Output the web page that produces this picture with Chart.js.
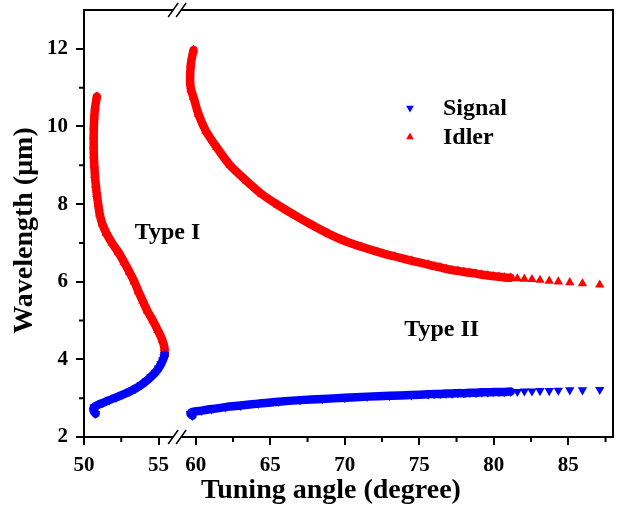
<!DOCTYPE html>
<html>
<head>
<meta charset="utf-8">
<script src="https://cdn.jsdelivr.net/npm/chart.js@4.4.0/dist/chart.umd.min.js"></script>
<style>
  html, body { margin: 0; padding: 0; background: #fff; }
  #wrap { width: 629px; height: 512px; }
</style>
</head>
<body>
<div id="wrap"><canvas id="chart"></canvas></div>
<script>
// Type I branch (left of the axis break)
const signal1X = [50.78, 50.64, 50.68, 50.95, 51.27, 51.7, 52.16, 52.6, 53.05, 53.45, 53.83, 54.18, 54.49, 54.78, 55.0, 55.17, 55.29, 55.37, 55.41];
const signal1Y = [2.60, 2.68, 2.77, 2.83, 2.88, 2.95, 3.02, 3.09, 3.17, 3.25, 3.34, 3.44, 3.55, 3.66, 3.77, 3.88, 3.98, 4.06, 4.12];
const idler1X = [55.41, 55.40, 55.25, 54.95, 54.62, 54.25, 53.95, 53.65, 53.38, 53.05, 52.70, 52.32, 51.88, 51.5, 51.22, 51.05, 50.95, 50.86, 50.79, 50.73, 50.69, 50.66, 50.65, 50.65, 50.66, 50.69, 50.75, 50.86];
const idler1Y = [4.13, 4.30, 4.50, 4.75, 5.00, 5.25, 5.50, 5.75, 6.00, 6.25, 6.50, 6.75, 7.00, 7.25, 7.50, 7.75, 8.00, 8.25, 8.50, 8.75, 9.00, 9.25, 9.50, 9.75, 10.00, 10.25, 10.50, 10.77];

// Type II branch (right of the axis break)
const signal2X = [59.78, 59.64, 59.8, 60.4, 61.07, 62.0, 63.0, 64.2, 65.54, 67.0, 68.5, 70.0, 71.5, 73.0, 74.47, 75.6, 76.0, 76.4, 76.8, 77.2, 77.6, 78.0, 78.4, 78.8, 79.2, 79.6, 80.0, 80.35, 80.7, 81.13, 81.58, 82.05, 82.56, 83.1, 83.72, 84.33, 85.1, 85.95, 87.11];
const signal2Y = [2.55, 2.60, 2.65, 2.68, 2.72, 2.77, 2.81, 2.86, 2.91, 2.95, 2.98, 3.01, 3.04, 3.06, 3.08, 3.10, 3.11, 3.11, 3.12, 3.12, 3.13, 3.13, 3.14, 3.14, 3.15, 3.15, 3.16, 3.16, 3.16, 3.17, 3.17, 3.18, 3.18, 3.19, 3.19, 3.20, 3.21, 3.21, 3.22];
const idler2X = [59.85, 59.67, 59.62, 59.68, 59.85, 60.18, 60.67, 61.41, 62.3, 63.4, 64.42, 65.5, 66.66, 67.8, 68.89, 70.0, 71.12, 72.2, 73.36, 74.5, 75.6, 76.0, 76.4, 76.8, 77.2, 77.6, 78.0, 78.4, 78.8, 79.2, 79.6, 80.0, 80.35, 80.7, 81.13, 81.58, 82.05, 82.56, 83.1, 83.72, 84.33, 85.1, 85.95, 87.11];
const idler2Y = [11.97, 11.61, 11.18, 10.95, 10.75, 10.32, 9.89, 9.46, 9.0, 8.6, 8.26, 7.98, 7.71, 7.46, 7.24, 7.05, 6.90, 6.77, 6.65, 6.54, 6.44, 6.40, 6.37, 6.33, 6.30, 6.28, 6.25, 6.23, 6.21, 6.18, 6.16, 6.14, 6.13, 6.11, 6.10, 6.08, 6.07, 6.06, 6.04, 6.02, 6.00, 5.98, 5.95, 5.92];

const xTicks = [50, 55, 60, 65, 70, 75, 80, 85];
const xMinorTicks = [52.5, 62.5, 67.5, 72.5, 77.5, 82.5, 87.5];
const yTicks = [2, 4, 6, 8, 10, 12];
const yMinorTicks = [3, 5, 7, 9, 11];

// x axis is broken between these two angles
const breakFrom = 56.25, breakTo = 58.75;
const gap = breakTo - breakFrom;
const fold = x => x > breakFrom ? x - gap : x;
const unfold = v => v > breakFrom ? v + gap : v;

const RED = '#ff0000', BLUE = '#0000ff';
const SERIF = "'Liberation Serif', 'Times New Roman', serif";
const denseUntil = 81.2; // markers past this angle are drawn apart
const BAND = 8.5;

function series(label, xs, ys, color, rotation) {
  let lineEnd = 0;
  xs.forEach((x, i) => { if (x <= denseUntil) lineEnd = i; });
  return {
    label: label,
    data: xs.map((x, i) => ({ x: fold(x), y: ys[i] })),
    showLine: true,
    borderColor: color,
    backgroundColor: color,
    borderWidth: BAND,
    borderJoinStyle: 'round',
    borderCapStyle: 'round',
    tension: 0.3,
    pointStyle: 'triangle',
    rotation: rotation,
    pointRadius: 5.4,
    pointHoverRadius: 5.4,
    pointBorderWidth: 0,
    segment: {
      borderColor: ctx => ctx.p1DataIndex <= lineEnd ? color : 'rgba(0,0,0,0)',
      borderWidth: BAND,
      borderJoinStyle: 'round',
      borderCapStyle: 'round'
    }
  };
}

const axisFrame = {
  id: 'axisFrame',
  afterDraw(chart) {
    const { ctx, chartArea: a, scales: { x, y } } = chart;
    ctx.save();
    ctx.strokeStyle = '#000';
    ctx.lineWidth = 2;
    // top and right edges
    ctx.beginPath();
    ctx.moveTo(a.left, a.top); ctx.lineTo(a.right, a.top); ctx.lineTo(a.right, a.bottom);
    ctx.stroke();
    // minor ticks
    ctx.beginPath();
    xMinorTicks.forEach(v => {
      const px = x.getPixelForValue(fold(v));
      ctx.moveTo(px, a.bottom); ctx.lineTo(px, a.bottom + 5);
    });
    yMinorTicks.forEach(v => {
      const py = y.getPixelForValue(v);
      ctx.moveTo(a.left, py); ctx.lineTo(a.left - 5, py);
    });
    ctx.stroke();
    // axis break marks on top and bottom
    const bx = x.getPixelForValue(breakFrom);
    [a.top, a.bottom].forEach(by => {
      ctx.fillStyle = '#fff';
      ctx.fillRect(bx - 4, by - 2, 8, 4);
      ctx.beginPath();
      [-4, 4].forEach(d => {
        ctx.moveTo(bx + d - 5, by + 7);
        ctx.lineTo(bx + d + 5, by - 7);
      });
      ctx.lineWidth = 1.5;
      ctx.stroke();
    });
    // legend
    const items = [
      { text: 'Signal', color: BLUE, rotation: 180 },
      { text: 'Idler', color: RED, rotation: 0 }
    ];
    ctx.font = 'bold 24px ' + SERIF;
    ctx.textBaseline = 'middle';
    ctx.textAlign = 'left';
    items.forEach((it, i) => {
      const ly = a.top + 98 + i * 29;
      const lx = a.left + 326;
      ctx.fillStyle = it.color;
      Chart.helpers.drawPoint(ctx, { pointStyle: 'triangle', rotation: it.rotation, radius: 4.4, borderWidth: 0 }, lx, ly);
      ctx.fillStyle = '#000';
      ctx.fillText(it.text, lx + 33, ly + 1);
    });
    // branch labels
    ctx.textAlign = 'center';
    ctx.fillText('Type I', x.getPixelForValue(fold(55.6)), y.getPixelForValue(7.27));
    ctx.fillText('Type II', x.getPixelForValue(fold(76.5)), y.getPixelForValue(4.75));
    ctx.restore();
  }
};

new Chart(document.getElementById('chart'), {
  type: 'scatter',
  data: {
    datasets: [
      series('Signal', signal1X, signal1Y, BLUE, 180),
      series('Idler', idler1X, idler1Y, RED, 0),
      series('Signal', signal2X, signal2Y, BLUE, 180),
      series('Idler', idler2X, idler2Y, RED, 0)
    ]
  },
  options: {
    responsive: true,
    maintainAspectRatio: false,
    animation: false,
    layout: { padding: { top: 10, right: 16, left: 0, bottom: 0 } },
    plugins: { legend: { display: false }, tooltip: { enabled: false } },
    scales: {
      x: {
        type: 'linear',
        min: 50,
        max: 88 - gap,
        afterBuildTicks: s => { s.ticks = xTicks.map(v => ({ value: fold(v) })); },
        afterFit: s => { s.height = 75; s.paddingLeft = 0; s.paddingRight = 0; },
        ticks: {
          autoSkip: false,
          maxRotation: 0,
          padding: 8,
          color: '#000',
          font: { family: SERIF, size: 21, weight: 'bold' },
          callback: v => String(Math.round(unfold(v)))
        },
        grid: { drawOnChartArea: false, drawTicks: true, tickLength: 8, color: '#000', lineWidth: 2 },
        border: { display: true, color: '#000', width: 2 },
        title: {
          display: true,
          // trailing spaces nudge the centred title left, as in the original
          text: 'Tuning angle (degree)\u00a0\u00a0\u00a0\u00a0\u00a0',
          color: '#000',
          font: { family: SERIF, size: 28, weight: 'bold' },
          padding: { top: 0, bottom: 4 }
        }
      },
      y: {
        type: 'linear',
        min: 2,
        max: 13,
        afterBuildTicks: s => { s.ticks = yTicks.map(v => ({ value: v })); },
        afterFit: s => { s.width = 84; s.paddingTop = 0; s.paddingBottom = 0; },
        ticks: {
          padding: 8,
          color: '#000',
          font: { family: SERIF, size: 21, weight: 'bold' }
        },
        grid: { drawOnChartArea: false, drawTicks: true, tickLength: 8, color: '#000', lineWidth: 2 },
        border: { display: true, color: '#000', width: 2 },
        title: {
          display: true,
          text: 'Wavelength (μm)\u00a0\u00a0',
          color: '#000',
          font: { family: SERIF, size: 28, weight: 'bold' },
          padding: { top: 8, bottom: 0 }
        }
      }
    }
  },
  plugins: [axisFrame]
});
</script>
</body>
</html>
